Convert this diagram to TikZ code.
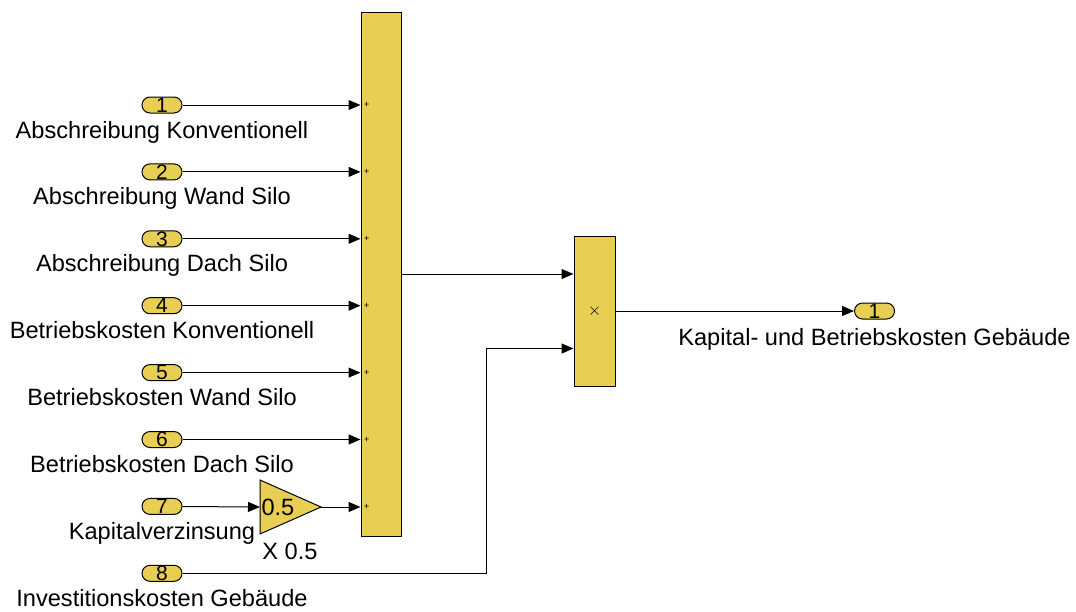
\documentclass[tikz,border=0pt]{standalone}
\usepackage{fontspec}
\setmainfont{Liberation Sans}
\usetikzlibrary{positioning,arrows.meta}
\definecolor{blockyellow}{RGB}{232,207,84}

\begin{document}
\begin{tikzpicture}[x=1pt, y=-1pt, line width=1pt,
    >={Triangle[length=12pt,width=10pt]},
    port/.style={draw, fill=blockyellow, rounded corners=8pt, minimum width=40pt,
        minimum height=16pt, inner sep=0pt, font=\fontsize{21}{21}\selectfont},
    block/.style={draw, fill=blockyellow, inner sep=0pt},
    lbl/.style={font=\fontsize{23.6}{23.6}\selectfont, anchor=base, inner sep=0pt},
    sgn/.style={font=\fontsize{9}{9}\selectfont, inner sep=0pt}]

    \useasboundingbox (0,0) rectangle (1076,611);

    % blocks
    \node[block, minimum width=40pt, minimum height=524pt] (sum) at (381,274) {};
    \node[block, minimum width=41pt, minimum height=150pt,
        font=\fontsize{18}{18}\selectfont] (prod) at (594.5,311) {$\times$};

    % inports
    \foreach \i/\txt in {1/Abschreibung Konventionell, 2/Abschreibung Wand Silo,
        3/Abschreibung Dach Silo, 4/Betriebskosten Konventionell,
        5/Betriebskosten Wand Silo, 6/Betriebskosten Dach Silo,
        7/Kapitalverzinsung, 8/Investitionskosten Gebäude} {
        \node[port] (p\i) at (162, {105+(\i-1)*66.9}) {\i};
        \node[lbl] (l\i) at ([yshift=-33pt]p\i.center) {\txt};
    }

    % gain
    \draw[fill=blockyellow] (260,480) -- (260,534) -- (321,507) coordinate (gout) -- cycle;
    \coordinate (gin) at (260,507);
    \node[anchor=west, inner sep=1pt, font=\fontsize{23.6}{23.6}\selectfont] (gval) at (gin) {0.5};
    \node[lbl] (gname) at (290,559) {X 0.5};

    % outport
    \node[port] (o1) at (874.5,311) {1};
    \node[lbl] (lo1) at ([yshift=-34pt]o1.center) {Kapital- und Betriebskosten Gebäude};

    % connections
    \foreach \i in {1,...,6}
        \draw[->] (p\i) -- (p\i -| sum.west) node[sgn, right=3pt] {+};
    \draw[->] (p7) -- (gin);
    \draw[->] (gout) -- (gout -| sum.west) node[sgn, right=3pt] {+};
    \draw[->] (sum.east) -- (sum.east -| prod.west);
    \draw[->] (p8) -| ([xshift=-87pt,yshift=-37.5pt]prod.west) -- ([yshift=-37.5pt]prod.west);
    \draw[->] (prod.east) -- (o1);

\end{tikzpicture}
\end{document}
